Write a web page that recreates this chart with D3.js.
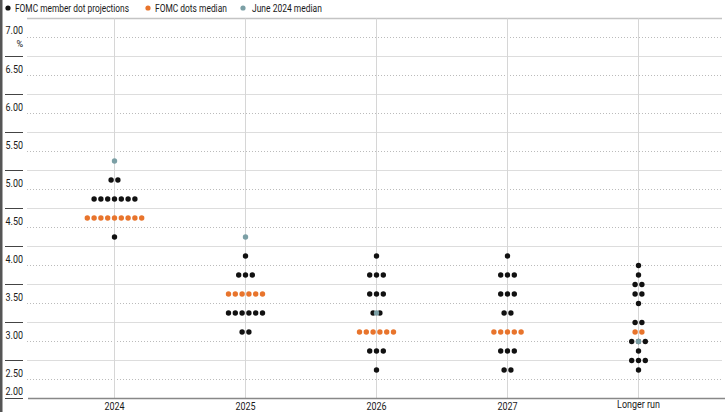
<!DOCTYPE html>
<html>
<head>
<meta charset="utf-8">
<script src="https://cdn.jsdelivr.net/npm/d3@7"></script>
<style>
  body { margin: 0; background: #fff; }
  svg { display: block; }
  text { font-family: Roboto, "Noto Sans", sans-serif; fill: #1a1a1a; }
</style>
</head>
<body>
<svg width="725" height="412"></svg>
<script>
const width = 725
const height = 412

// categories along the bottom
const categories = ["2024", "2025", "2026", "2027", "Longer run"]

// participant projections: [rate, number of dots]
const dots2024 = [[4.875, 2], [4.625, 7], [4.375, 9], [4.125, 1]]
const dots2025 = [[3.875, 1], [3.625, 3], [3.375, 6], [3.125, 6], [2.875, 2]]
const dots2026 = [[3.875, 1], [3.625, 3], [3.375, 3], [3.125, 2], [2.875, 6], [2.625, 3], [2.375, 1]]
const dots2027 = [[3.875, 1], [3.625, 3], [3.375, 3], [3.125, 2], [2.875, 5], [2.625, 3], [2.375, 2]]
const dotsLonger = [[3.75, 1], [3.625, 1], [3.5, 2], [3.375, 2], [3.25, 1], [3.0, 2], [2.875, 2], [2.75, 3], [2.625, 1], [2.5, 3], [2.375, 1]]
const allDots = [dots2024, dots2025, dots2026, dots2027, dotsLonger]

// medians
const medians = [4.375, 3.375, 2.875, 2.875, 2.875]
const juneMedians = [5.125, 4.125, 3.125, null, 2.75]

// y axis labels
const yTicks = [7.0, 6.5, 6.0, 5.5, 5.0, 4.5, 4.0, 3.5, 3.0, 2.5, 2.0]
const yQuarters = [6.75, 6.25, 5.75, 5.25, 4.75, 4.25, 3.75, 3.25, 2.75, 2.25]

const colBlack = "#111"
const colOrange = "#e8742c"
const colGray = "#7b9fa5"

let margin = {top: 18.5, right: 3, bottom: 13.5, left: 27}
let plotBottom = height - margin.bottom

const svg = d3.select("svg")

const y = d3.scaleLinear()
    .domain([2, 7])
    .range([plotBottom, margin.top])

const x = d3.scalePoint()
    .domain(categories)
    .range([49, 704])
    .padding(0.5)

// condensed look: scale text horizontally around its anchor point
function squeeze(sel, fx, fy, sx) {
    sel.attr("transform", (d, i) => `translate(${fx(d, i)},${fy(d, i)}) scale(${sx},1)`)
}

// left frame bar
svg.append("rect")
    .attr("x", 0).attr("y", 0)
    .attr("width", 2.5).attr("height", height)
    .attr("fill", "#555")

// legend
const legendItems = [
    {label: "FOMC member dot projections", color: colBlack, x: 8, tx: 15, w: 114},
    {label: "FOMC dots median", color: colOrange, x: 148, tx: 155, w: 72},
    {label: "June 2024 median", color: colGray, x: 243, tx: 252, w: 70}
]
svg.append("g")
    .selectAll("circle")
    .data(legendItems)
    .enter().append("circle")
    .attr("cx", d => d.x)
    .attr("cy", 8)
    .attr("r", 2.6)
    .attr("fill", d => d.color)
svg.append("g")
    .selectAll("text")
    .data(legendItems)
    .enter().append("text")
    .attr("font-size", "11.5px")
    .text(d => d.label)
    .each(function(d) {
        let s = d.w / this.getComputedTextLength()
        d3.select(this).attr("transform", `translate(${d.tx},12) scale(${s},1)`)
    })

// dotted quarter gridlines
svg.append("g")
    .selectAll("line")
    .data(yQuarters)
    .enter().append("line")
    .attr("x1", margin.left).attr("x2", width - margin.right)
    .attr("y1", d => y(d)).attr("y2", d => y(d))
    .attr("stroke", "#bbb")
    .attr("stroke-dasharray", "1,2")

// solid gridlines
svg.append("g")
    .selectAll("line")
    .data(yTicks.filter(d => d > 2 && d < 7))
    .enter().append("line")
    .attr("x1", margin.left).attr("x2", width - margin.right)
    .attr("y1", d => y(d)).attr("y2", d => y(d))
    .attr("stroke", "#ddd")

// top line
svg.append("line")
    .attr("x1", margin.left).attr("x2", width - margin.right)
    .attr("y1", y(7)).attr("y2", y(7))
    .attr("stroke", "#c4c4c4")
    .attr("stroke-width", 1.5)

// vertical category lines
svg.append("g")
    .selectAll("line")
    .data(categories)
    .enter().append("line")
    .attr("x1", d => x(d)).attr("x2", d => x(d))
    .attr("y1", y(7)).attr("y2", plotBottom)
    .attr("stroke", "#d6d6d6")

// left ticks and labels
svg.append("g")
    .selectAll("line")
    .data(yTicks.filter(d => d < 7))
    .enter().append("line")
    .attr("x1", 5).attr("x2", 23)
    .attr("y1", d => y(d)).attr("y2", d => y(d))
    .attr("stroke", "#444")

svg.append("g")
    .selectAll("text")
    .data(yTicks)
    .enter().append("text")
    .attr("text-anchor", "end")
    .attr("font-size", "11.5px")
    .attr("fill", "#333")
    .text(d => d3.format(".2f")(d))
    .call(squeeze, () => 23, d => d == 2 ? y(d) - 3.5 : (d == 7 ? y(d) + 15 : y(d) + 16.5), 0.78)

svg.append("text")
    .attr("x", 23)
    .attr("y", y(7) + 28.5)
    .attr("text-anchor", "end")
    .attr("font-size", "9px")
    .attr("fill", "#777")
    .text("%")

// x axis
svg.append("line")
    .attr("x1", 28).attr("x2", width)
    .attr("y1", plotBottom).attr("y2", plotBottom)
    .attr("stroke", "#888")
    .attr("stroke-width", 1.5)

svg.append("g")
    .selectAll("text")
    .data(categories)
    .enter().append("text")
    .attr("text-anchor", "middle")
    .attr("font-size", "11.5px")
    .text(d => d)
    .call(squeeze, d => x(d), d => d == "Longer run" ? 408 : 409.5, 0.78)

// dots
const spacing = 6.8
let flat = []
allDots.forEach(function(rows, ci) {
    rows.forEach(function(r) {
        let n = r[1]
        for (let i = 0; i < n; i++) {
            flat.push({cat: categories[ci], rate: r[0], off: (i - (n - 1) / 2) * spacing, median: r[0] === medians[ci]})
        }
    })
})

svg.append("g")
    .selectAll("circle")
    .data(flat)
    .enter().append("circle")
    .attr("cx", d => x(d.cat) + d.off)
    .attr("cy", d => y(d.rate))
    .attr("r", 2.7)
    .attr("fill", d => d.median ? colOrange : colBlack)

svg.append("g")
    .selectAll("circle")
    .data(juneMedians.map((m, i) => ({cat: categories[i], rate: m})).filter(d => d.rate !== null))
    .enter().append("circle")
    .attr("cx", d => x(d.cat))
    .attr("cy", d => y(d.rate))
    .attr("r", 2.7)
    .attr("fill", colGray)
</script>
</body>
</html>
